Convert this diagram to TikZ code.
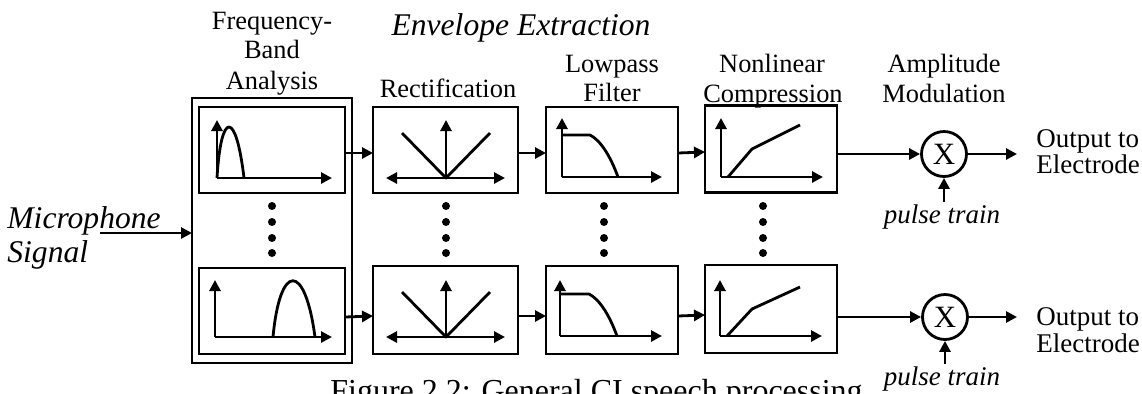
\documentclass[tikz,border=0pt]{standalone}
\usepackage{fontspec}
\setmainfont{Liberation Serif}
\usetikzlibrary{arrows.meta}
\begin{document}
\begin{tikzpicture}[x=0.5pt,y=-0.5pt,
  blk/.style={draw,line width=1.4pt,inner sep=0pt,outer sep=0pt},
  arr/.style={line width=1.4pt,-{Triangle[length=5.5pt,width=5.5pt]}},
  darr/.style={line width=1.4pt,{Triangle[length=5.5pt,width=5.5pt]}-{Triangle[length=5.5pt,width=5.5pt]}},
  crv/.style={line width=1.4pt,line join=round},
  lab/.style={font=\fontsize{13.2pt}{15pt}\selectfont,anchor=base,inner sep=0pt},
  ilab/.style={font=\fontsize{15.8pt}{18pt}\selectfont\itshape,anchor=base,inner sep=0pt},
  plab/.style={font=\fontsize{13.5pt}{15pt}\selectfont\itshape,anchor=base,inner sep=1pt},
  olab/.style={font=\fontsize{13.5pt}{15pt}\selectfont,anchor=base west,inner sep=0pt},
  mult/.style={draw,circle,line width=1.4pt,minimum size=22.5pt,inner sep=0pt,font=\fontsize{15.5pt}{18pt}\selectfont},
  dot/.style={fill=black}
]
\useasboundingbox (0,0) rectangle (1142,393);
\clip (0,0) rectangle (1142,393);

% ---------- blocks ----------
\node[blk,minimum width=80pt,minimum height=132.5pt] (fo) at (272,230.5) {};
\node[blk,minimum width=73pt,minimum height=43pt] (fu) at (272,150) {};
\node[blk,minimum width=73pt,minimum height=43pt] (fl) at (272,311) {};
\node[blk,minimum width=72.5pt,minimum height=43pt] (ru) at (445.5,150) {};
\node[blk,minimum width=72.5pt,minimum height=44pt] (rl) at (445.5,310) {};
\node[blk,minimum width=66pt,minimum height=43pt] (lu) at (612,150) {};
\node[blk,minimum width=66pt,minimum height=44pt] (ll) at (612,310) {};
\node[blk,minimum width=66pt,minimum height=43.5pt] (nu) at (771,149) {};
\node[blk,minimum width=66pt,minimum height=44pt] (nl) at (771,309) {};
\node[mult] (mu) at (944,154) {X};
\node[mult] (ml) at (945,317) {X};

% ---------- labels ----------
\node[lab] (t1a) at (272,29) {Frequency-};
\node[lab] (t1b) at (272,58) {Band};
\node[lab] (t1c) at (272,89) {Analysis};
\node[ilab] (t0) at (521,35) {Envelope Extraction};
\node[lab] (t2) at (448,97) {Rectification};
\node[lab] (t3a) at (612,72) {Lowpass};
\node[lab] (t3b) at (612,101) {Filter};
\node[lab] (t4a) at (772,72) {Nonlinear};
\node[lab] (t4b) at (773,102) {Compression};
\node[lab] (t5a) at (944,72) {Amplitude};
\node[lab] (t5b) at (944,102) {Modulation};
\node[ilab,anchor=base west] (m1) at (7,228) {Microphone};
\node[ilab,anchor=base west] (m2) at (7,262) {Signal};
\node[olab] (o1a) at (1036,147) {Output to};
\node[olab] (o1b) at (1036,173) {Electrode};
\node[olab] (o2a) at (1036,325) {Output to};
\node[olab] (o2b) at (1036,352) {Electrode};
\node[plab] (p1) at (942,223) {pulse train};
\node[plab] (p2) at (942,385) {pulse train};
\node[font=\fontsize{16pt}{18pt}\selectfont,anchor=base west,inner sep=0pt] (cap) at (330,401) {Figure 2.2: General CI speech processing};

% ---------- connectors ----------
\coordinate (mic) at (100,233);
\draw[arr] (mic) -- (mic -| fo.west);
\draw[arr] ([yshift=-1.5pt]fu.east) -- ([yshift=-1.5pt]ru.west);
\draw[arr] ([yshift=-1.5pt]ru.east) -- ([yshift=-1.5pt]lu.west);
\draw[arr] ([yshift=-1.5pt]lu.east) -- ([yshift=-1.5pt]nu.west);
\draw[arr] (nu.east |- mu) -- (mu.west);
\draw[arr] ([yshift=-3pt]fl.east) -- ([yshift=-3pt]rl.west);
\draw[arr] ([yshift=-3pt]rl.east) -- ([yshift=-3pt]ll.west);
\draw[arr] ([yshift=-3pt]ll.east) -- ([yshift=-3pt]nl.west);
\draw[arr] (nl.east |- ml) -- (ml.west);
\coordinate (e1) at (1017,154);
\coordinate (e2) at (1017,317);
\draw[arr] (mu.east) -- (e1);
\draw[arr] (ml.east) -- (e2);
\draw[arr] (p1.north -| mu) -- (mu.south);
\draw[arr] (p2.north -| ml) -- (ml.south);

% ---------- dots ----------
\foreach \x in {272,446,604,763}{
  \foreach \y in {206,222,238,253}{
    \fill[dot] (\x,\y) circle (2pt);
  }
}

% ---------- icons: frequency band ----------
\draw[arr] (217,178) -- (217,120);
\draw[arr] (217,178) -- (332,178);
\draw[crv] (217,178) .. controls (221,110) and (236,110) .. (244,178);
\draw[arr] (215,337) -- (215,280);
\draw[arr] (215,337) -- (332,337);
\draw[crv] (273,337) .. controls (280,262) and (305,262) .. (315,337);

% ---------- icons: rectification ----------
\draw[darr] (386,178) -- (505,178);
\draw[arr] (446,178) -- (446,120);
\draw[crv] (402,133) -- (446,178) -- (490,133);
\draw[darr] (386,337) -- (505,337);
\draw[arr] (446,337) -- (446,280);
\draw[crv] (402,292) -- (446,337) -- (490,292);

% ---------- icons: lowpass ----------
\draw[arr] (562,177) -- (562,118);
\draw[arr] (562,177) -- (662,177);
\draw[crv] (562,135) -- (590,135) .. controls (600,140) and (610,155) .. (618,177);
\draw[arr] (560,336) -- (560,280);
\draw[arr] (560,336) -- (662,336);
\draw[crv] (560,294) -- (589,294) .. controls (599,299) and (609,314) .. (617,336);

% ---------- icons: nonlinear ----------
\draw[arr] (721,177) -- (721,118);
\draw[arr] (721,177) -- (823,177);
\draw[crv] (728,177) -- (752,149) -- (800,125);
\draw[arr] (720,336) -- (720,280);
\draw[arr] (720,336) -- (822,336);
\draw[crv] (727,336) -- (752,309) -- (800,287);
\end{tikzpicture}
\end{document}
